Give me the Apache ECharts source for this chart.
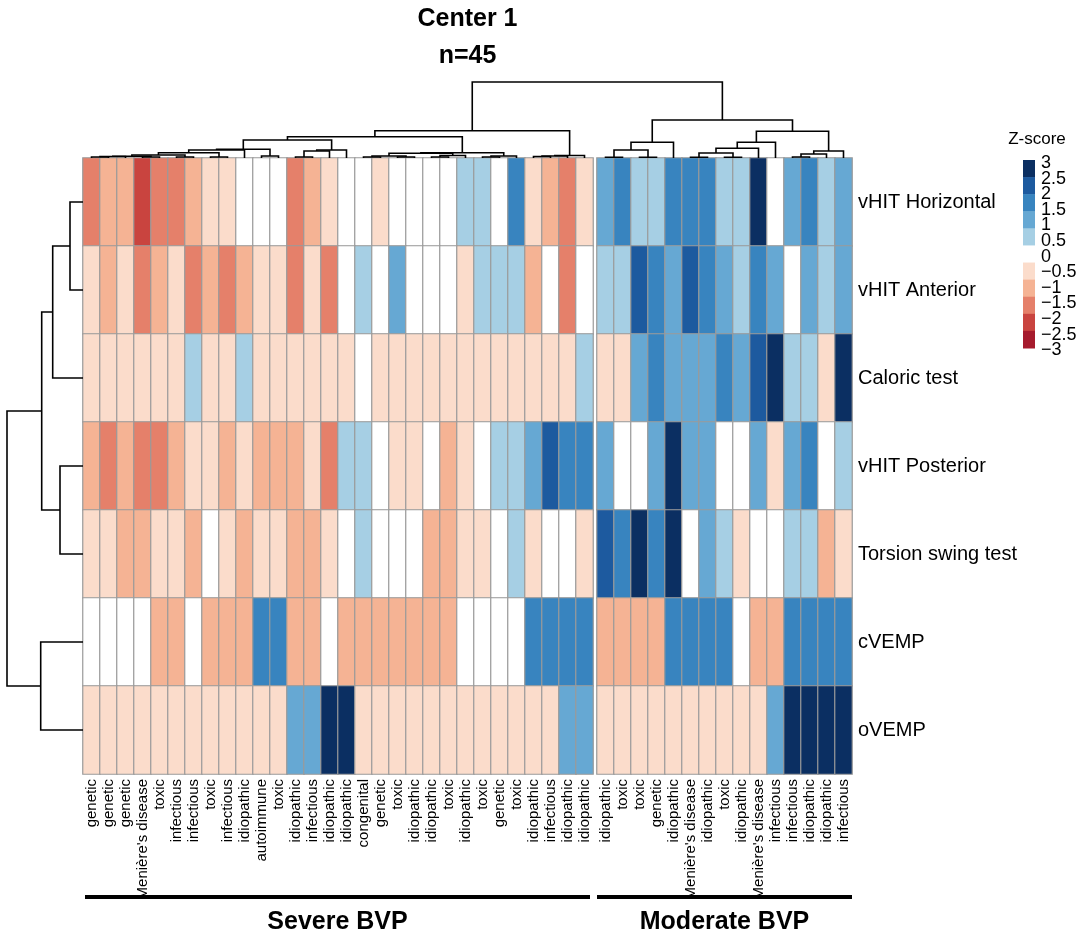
<!DOCTYPE html>
<html><head><meta charset="utf-8">
<script src="https://cdn.jsdelivr.net/npm/echarts@6/dist/echarts.min.js"></script>
<style>html,body{margin:0;padding:0;background:#fff}#c{width:1084px;height:939px}</style>
</head><body><div id="c"></div>
<script>
// ---------- data ----------
const rowLabels = ['vHIT Horizontal','vHIT Anterior','Caloric test','vHIT Posterior','Torsion swing test','cVEMP','oVEMP'];
const severeLabels = ['genetic','genetic','genetic',"Menière's disease",'toxic','infectious','infectious','toxic','infectious','idiopathic',
  'autoimmune','toxic','idiopathic','infectious','idiopathic','idiopathic','congenital','genetic','toxic','idiopathic',
  'idiopathic','toxic','idiopathic','toxic','genetic','toxic','idiopathic','infectious','idiopathic','idiopathic'];
const moderateLabels = ['idiopathic','toxic','toxic','genetic','idiopathic',"Menière's disease",'idiopathic','toxic','idiopathic',"Menière's disease",
  'infectious','infectious','idiopathic','idiopathic','infectious'];
const groupNames = ['Severe BVP','Moderate BVP'];

// Z-scores, one array per test (row)
const severeZ = [
  [-1.6,-1.1,-1.1,-2.2,-1.6,-1.6,-1.1,-0.5,-0.5,0,0,0,-1.6,-1.1,-0.5, 0,0,-0.5,0,0,0,0,0.5,0.5,0,1.6,-0.5,-1.1,-1.6,-0.5],
  [-0.5,-1.1,-0.5,-1.6,-1.1,-0.5,-1.6,-1.1,-1.6,-1.1,-0.5,-0.5,-1.6,-0.5,-1.6, 0,0.5,0,1.1,0,0,0,-0.5,0.5,0.5,0.5,-1.1,0,-1.6,0],
  [-0.5,-0.5,-0.5,-0.5,-0.5,-0.5,0.5,-0.5,-0.5,0.5,-0.5,-0.5,-0.5,-0.5,-0.5, -0.5,0,-0.5,-0.5,-0.5,-0.5,-0.5,-0.5,-0.5,-0.5,-0.5,-0.5,-0.5,-0.5,0.5],
  [-1.1,-1.6,-1.1,-1.6,-1.6,-1.1,-0.5,-0.5,-1.1,-0.5,-1.1,-1.1,-1.1,-0.5,-1.6, 0.5,0.5,0,-0.5,-0.5,0,-1.1,-0.5,0,0.5,0.5,1.1,2.2,1.6,1.6],
  [-0.5,-0.5,-1.1,-1.1,-0.5,-0.5,-1.1,0,-0.5,-1.1,-0.5,-0.5,-1.1,-1.1,-0.5, 0,0.5,0,0,0,-1.1,-1.1,-0.5,-0.5,0,0.5,-0.5,0,0,-0.5],
  [0,0,0,0,-1.1,-1.1,0,-1.1,-1.1,-1.1,1.6,1.6,-1.1,-1.1,0, -1.1,-1.1,-1.1,-1.1,-1.1,-1.1,-1.1,0,0,0,0,1.6,1.6,1.6,1.6],
  [-0.5,-0.5,-0.5,-0.5,-0.5,-0.5,-0.5,-0.5,-0.5,-0.5,-0.5,-0.5,1.1,1.1,2.7, 2.7,-0.5,-0.5,-0.5,-0.5,-0.5,-0.5,-0.5,-0.5,-0.5,-0.5,-0.5,-0.5,1.1,1.1]
];
const moderateZ = [
  [1.1,1.6,0.5,0.5,1.6,1.6,1.6,0.5,0.5,2.7,0,1.1,1.6,0.5,1.1],
  [0.5,0.5,2.2,1.6,1.1,2.2,1.6,1.1,0.5,1.6,1.1,0,1.1,0.5,1.1],
  [-0.5,-0.5,1.1,1.6,1.1,1.1,1.1,1.6,1.1,2.2,2.7,0.5,0.5,-0.5,2.7],
  [1.1,0,0,1.1,2.7,1.1,1.1,0,0,1.1,-0.5,1.1,1.6,0,0.5],
  [2.2,1.6,2.7,1.6,2.7,0,1.1,0.5,-0.5,0,0,0.5,0.5,-1.1,-0.5],
  [-1.1,-1.1,-1.1,-1.1,1.6,1.6,1.6,1.6,0,-1.1,-1.1,1.6,1.6,1.6,1.6],
  [-0.5,-0.5,-0.5,-0.5,-0.5,-0.5,-0.5,-0.5,-0.5,-0.5,1.1,2.7,2.7,2.7,2.7]
];

// hierarchical clustering of columns: [a, b, height]; negative = leaf (-(col+1)), positive = earlier merge (1-based)
const colMerges = [
  [-1,-2,1],[1,-3,1.5],[-4,-5,1],[2,3,1.8],[-6,-7,1],[4,5,3],[-8,-9,1],[6,7,5.3],[8,-10,8],[-11,-12,2],
  [9,10,8.7],[-13,-14,1],[12,-15,7],[13,-16,8],[11,14,18],[-17,-18,1],[-19,-20,1],[16,17,2],[-21,-22,1],[19,-23,2.5],
  [18,20,4.7],[-24,-25,1],[22,-26,2],[21,23,5.3],[15,24,21.3],[-27,-28,1.5],[26,-29,2],[27,-30,2.5],[25,28,27.3],
  [-31,-32,0.7],[-33,-34,0.7],[30,31,8],[32,-35,15.7],[-36,-37,0.7],[-38,-39,0.7],[34,35,5],[36,-40,9.7],[37,-41,15.7],
  [-42,-43,1],[39,-44,4],[40,-45,7],[38,41,26.7],[33,42,38],[29,43,76]
];
// clustering of rows
const rowMerges = [[-1,-2,13],[1,-3,30.3],[-4,-5,23],[2,3,41.3],[-6,-7,42.3],[4,5,76]];

const legendTicks = ['3','2.5','2','1.5','1','0.5','0','\u22120.5','\u22121','\u22121.5','\u22122','\u22122.5','\u22123'];
const binColors = ['#0b2f62','#1d5a9f','#3884bf','#66a8d3','#a6cfe4','#ffffff','#fbdccb','#f5b394','#e5806a','#c9443f','#a61b2d'];

// ---------- layout ----------
const CELL = 17, TOP = 158, H = 616, LEFT = 83, GAPPX = 4;
const nS = severeLabels.length, nM = moderateLabels.length;
const modLeft = LEFT + nS*CELL + GAPPX;
const gapU = GAPPX / CELL;

function heatData(Z){ const d=[]; Z.forEach((row,r)=>row.forEach((v,c)=>d.push([c,r,v]))); return d; }

function dendroLines(merges, leafPos, horizontal){
  const pos=[], hs=[], lines=[];
  const get = k => k<0 ? [leafPos(-k-1),0] : [pos[k-1],hs[k-1]];
  merges.forEach(([a,b,h])=>{
    const [pa,ha]=get(a), [pb,hb]=get(b);
    pos.push((pa+pb)/2); hs.push(h);
    const pts=[[pa,ha],[pa,h],[pb,h],[pb,hb]];
    lines.push({coords: horizontal ? pts.map(p=>[p[1],p[0]]) : pts});
  });
  return lines;
}
const colLines = dendroLines(colMerges, i => i < nS ? i : i + gapU, false);
const rowLines = dendroLines(rowMerges, i => i, true);

// visual pieces: 11 equal bins between -3 and 3
const pieces = [];
const nb = binColors.length, step = 6/nb;
for (let k=0;k<nb;k++){
  const lo = -3 + k*step, hi = lo + step;
  const p = {color: binColors[nb-1-k]};
  if (k>0) p.gte = lo;
  if (k<nb-1) p.lt = hi;
  pieces.push(p);
}

const FONT = 'Liberation Sans, Arial, sans-serif';
const catX = (gi, data) => ({
  type:'category', gridIndex: gi, data, position:'bottom',
  axisLine:{show:false}, axisTick:{show:false}, splitLine:{show:false},
  axisLabel:{rotate:90, interval:0, fontSize:15, color:'#000', margin:5, fontFamily:FONT}
});

// legend graphic
const LX = 1023, LY = 160, LH = 188, LW = 12;
const graphic = [];
binColors.forEach((c,i)=>graphic.push({type:'rect', shape:{x:LX, y:LY + i*LH/nb, width:LW, height:LH/nb+0.5}, style:{fill:c}, silent:true}));
legendTicks.forEach((t,i)=>graphic.push({type:'text', x:LX+18, y:LY+3 + i*(LH/(legendTicks.length-1))*0.996, style:{text:t, fontSize:18, fill:'#000', fontFamily:FONT, textVerticalAlign:'middle', textAlign:'left'}}));
graphic.push({type:'text', x:1037, y:139, style:{text:'Z-score', fontSize:17, fill:'#000', fontFamily:FONT, textAlign:'center', textVerticalAlign:'middle'}});
// titles
const midX = LEFT + (nS*CELL + GAPPX + nM*CELL)/2;
graphic.push({type:'text', x:midX, y:19, style:{text:'Center 1', fontSize:25, fontWeight:'bold', fill:'#000', fontFamily:FONT, textAlign:'center', textVerticalAlign:'middle'}});
graphic.push({type:'text', x:midX, y:56, style:{text:'n=45', fontSize:25, fontWeight:'bold', fill:'#000', fontFamily:FONT, textAlign:'center', textVerticalAlign:'middle'}});
// group bars
[[LEFT+2, LEFT+nS*CELL-3],[modLeft, modLeft+nM*CELL]].forEach(([a,b],i)=>{
  graphic.push({type:'rect', shape:{x:a, y:895, width:b-a, height:4}, style:{fill:'#000'}});
  graphic.push({type:'text', x:(a+b)/2, y:922, style:{text:groupNames[i], fontSize:25, fontWeight:'bold', fill:'#000', fontFamily:FONT, textAlign:'center', textVerticalAlign:'middle'}});
});

const option = {
  animation:false,
  backgroundColor:'#fff',
  grid:[
    {left:LEFT, top:TOP, width:nS*CELL, height:H},
    {left:modLeft, top:TOP, width:nM*CELL, height:H},
    {left:LEFT, top:TOP-80, width:nS*CELL+GAPPX+nM*CELL, height:80},
    {left:LEFT-78, top:TOP, width:78, height:H}
  ],
  xAxis:[
    catX(0, severeLabels), catX(1, moderateLabels),
    {type:'value', gridIndex:2, min:-0.5, max:nS+nM-0.5+gapU, show:false},
    {type:'value', gridIndex:3, min:0, max:78, inverse:true, show:false}
  ],
  yAxis:[
    {type:'category', gridIndex:0, data:rowLabels, inverse:true, show:false},
    {type:'category', gridIndex:1, data:rowLabels, inverse:true, position:'right',
      axisLine:{show:false}, axisTick:{show:false}, splitLine:{show:false},
      axisLabel:{fontSize:20, color:'#000', margin:6, fontFamily:FONT}},
    {type:'value', gridIndex:2, min:0, max:80, show:false},
    {type:'value', gridIndex:3, min:-0.5, max:rowLabels.length-0.5, inverse:true, show:false}
  ],
  visualMap:{type:'piecewise', show:false, seriesIndex:[0,1], pieces},
  series:[
    {type:'heatmap', xAxisIndex:0, yAxisIndex:0, data:heatData(severeZ), itemStyle:{borderColor:'#9a9a9a', borderWidth:1.2}, emphasis:{disabled:true}},
    {type:'heatmap', xAxisIndex:1, yAxisIndex:1, data:heatData(moderateZ), itemStyle:{borderColor:'#9a9a9a', borderWidth:1.2}, emphasis:{disabled:true}},
    {type:'lines', coordinateSystem:'cartesian2d', xAxisIndex:2, yAxisIndex:2, polyline:true, silent:true,
      lineStyle:{color:'#000', width:1.6, opacity:1}, data:colLines},
    {type:'lines', coordinateSystem:'cartesian2d', xAxisIndex:3, yAxisIndex:3, polyline:true, silent:true,
      lineStyle:{color:'#000', width:1.6, opacity:1}, data:rowLines}
  ],
  graphic
};
const chart = echarts.init(document.getElementById('c'), null, {renderer:'canvas'});
chart.setOption(option);
</script>
</body></html>
